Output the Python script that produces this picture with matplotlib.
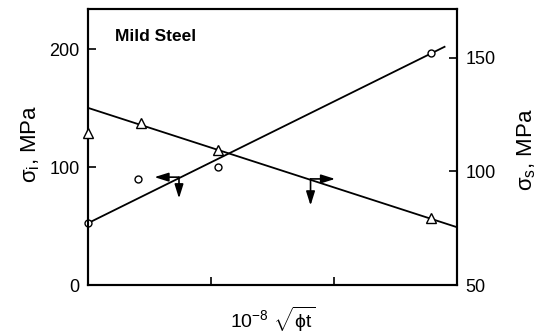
import matplotlib
matplotlib.use('Agg')
import matplotlib.pyplot as plt

plt.rcParams['font.family'] = ['Liberation Sans', 'DejaVu Sans']
plt.rcParams['mathtext.fontset'] = 'custom'
plt.rcParams['mathtext.rm'] = 'Liberation Sans'
plt.rcParams['mathtext.it'] = 'Liberation Sans:italic'

# sigma_i (left axis, circles)
x_si = [0.0, 0.41, 1.06, 2.79]
y_si = [52.5, 90, 100, 196.5]
si_line_x = [0.0, 2.9]
si_line_y = [52.5, 202]

# sigma_s (right axis, triangles)
x_ss = [0.0, 0.43, 1.06, 2.79]
y_ss = [117, 121.5, 109.6, 79.4]
ss_line_x = [0.0, 3.0]
ss_line_y = [128, 75.5]

# arrows: (start x, start y, end x, end y) on the left-axis scale
arrows = [(0.74, 91.5, 0.54, 91.5), (0.74, 91.5, 0.74, 73.5),
          (1.81, 90.0, 2.01, 90.0), (1.81, 90.0, 1.81, 67.5)]

fig = plt.figure(figsize=(5.4, 3.35), dpi=100)
ax = fig.add_axes([0.163, 0.149, 0.683, 0.824])
ax2 = ax.twinx()

ax.plot(si_line_x, si_line_y, color='black', lw=1.3)
ax.plot(x_si, y_si, 'o', mfc='white', mec='black', ms=5, mew=1.0, clip_on=False, zorder=5)
ax2.plot(ss_line_x, ss_line_y, color='black', lw=1.3)
ax2.plot(x_ss, y_ss, '^', mfc='white', mec='black', ms=6.5, mew=1.0, clip_on=False, zorder=5)

for x0, y0, x1, y1 in arrows:
    ax.annotate('', xy=(x1, y1), xytext=(x0, y0),
                arrowprops=dict(arrowstyle='-|>,head_length=0.7,head_width=0.22',
                                color='black', lw=1.2,
                                mutation_scale=12, shrinkA=0, shrinkB=0))

ax.set_xlim(0, 3)
ax.set_ylim(0, 234)
ax2.set_ylim(50, 171.5)
ax.set_xticks([1, 2])
ax.set_xticklabels([])
ax.set_yticks([0, 100, 200])
ax2.set_yticks([50, 100, 150])

for a in (ax, ax2):
    a.tick_params(direction='in', length=6, width=1.2, labelsize=13, pad=6)
    for s in a.spines.values():
        s.set_linewidth(1.5)

ax.text(0.073, 0.9, 'Mild Steel', transform=ax.transAxes, fontsize=12.5,
        fontweight='bold', va='center')

ax.set_ylabel(r'σ$_\mathregular{i}$, MPa', fontsize=16)
ax.yaxis.set_label_coords(-0.125, 0.513)
ax2.set_ylabel(r'σ$_\mathregular{s}$, MPa', fontsize=16, rotation=90)
ax2.yaxis.set_label_coords(1.158, 0.49)
ax.set_xlabel(r'$\mathregular{10^{-8}}\ \sqrt{\mathregular{\phi t}}$', fontsize=14, labelpad=8)

fig.savefig('out.png', dpi=100)
